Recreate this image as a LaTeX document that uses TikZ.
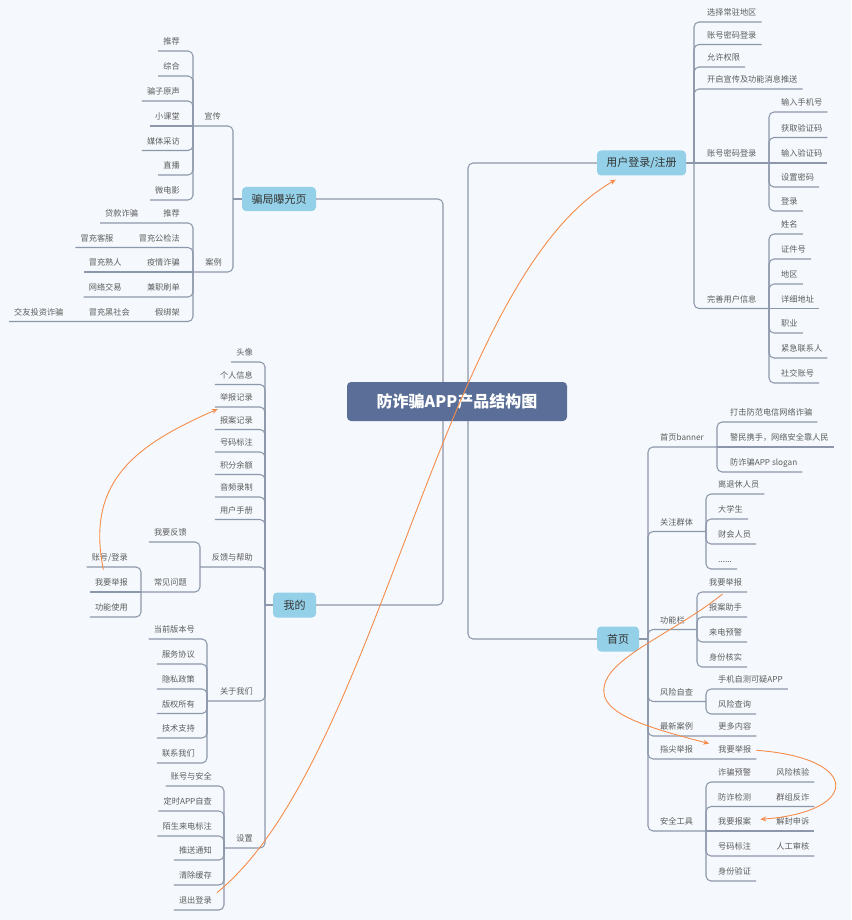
\documentclass[tikz,border=0pt]{standalone}
\usepackage{fontspec}
\setmainfont{Noto Sans CJK SC}
\usetikzlibrary{arrows.meta,calc}
\definecolor{bg}{HTML}{F5F9FD}
\definecolor{lnc}{HTML}{8D97AB}
\definecolor{txt}{HTML}{5C5C5C}
\definecolor{tpc}{HTML}{94D1E8}
\definecolor{ctr}{HTML}{5A6E97}
\definecolor{org}{HTML}{F58C4C}
\newcommand\fsm{\fontsize{8.2}{10}\selectfont}
% left item: name, text, x (anchor), underline y, junction, path operator
\newcommand\LN[6]{\node[lt] (#1) at (#3,#4) {#2}; \draw[ln] (#5) #6 (#1.south west);}
\newcommand\RN[6]{\node[rt] (#1) at (#3,#4) {#2}; \draw[ln] (#5) #6 (#1.south east);}
\newcommand\LNN[8]{\node[lt] (#1) at (#5,#6) {#2}; \node[lt] (#3) at ([xshift=-15pt]#1.south west) {#4}; \draw[ln] (#7) #8 (#3.south west);}
\newcommand\RNN[8]{\node[rt] (#1) at (#5,#6) {#2}; \node[rt] (#3) at ([xshift=15pt]#1.south east) {#4}; \draw[ln] (#7) #8 (#3.south east);}
\tikzset{
  lt/.style={anchor=south east, font=\fsm, text=txt, inner xsep=5pt, inner ysep=4pt, text height=7pt, text depth=2pt},
  rt/.style={lt, anchor=south west},
  ln/.style={draw=lnc, line width=1.05pt, rounded corners=5pt},
  topic/.style={fill=tpc, rounded corners=4pt, font=\fontsize{11}{13}\selectfont, text=black!80, inner sep=0pt},
  centre/.style={fill=ctr, rounded corners=4pt, font=\fontsize{16}{18}\selectfont\bfseries, text=white, inner sep=0pt, minimum width=220pt, minimum height=39pt},
  arr/.style={draw=org, line width=0.9pt, -{Stealth[length=6pt,width=5pt]}}
}
\begin{document}
\begin{tikzpicture}[x=1pt,y=-1pt]
\fill[bg] (0,0) rectangle (851,920);
\useasboundingbox (0,0) rectangle (851,920);

% centre and main topics
\node[centre] (c) at (457,401.5) {防诈骗APP产品结构图};
\node[topic, minimum width=74pt, minimum height=24pt] (pj) at (279,199) {骗局曝光页};
\node[topic, minimum width=43pt, minimum height=25pt] (wd) at (294.5,605) {我的};
\node[topic, minimum width=89pt, minimum height=25pt] (ud) at (641.5,163) {用户登录/注册};
\node[topic, minimum width=42pt, minimum height=25pt] (sy) at (618,639) {首页};

% trunks
\coordinate (tl) at (443,0);
\coordinate (tr) at (468,0);
\draw[ln] (c.north -| tl) |- (pj.east);
\draw[ln] (c.south -| tl) |- (wd.east);
\draw[ln] (c.north -| tr) |- (ud.west);
\draw[ln] (c.south -| tr) |- (sy.west);

% ---------- 骗局曝光页 ----------
\coordinate (jA) at (233,199);
\draw[ln] (pj.west) -- (jA);
\node[lt] (xc) at (226,126) {宣传};
\node[lt] (al) at (227,272) {案例};
\coordinate (jX) at (193,126);
\coordinate (jL) at (193,272);
\draw[ln] (jA) |- (jX);
\draw[ln] (jA) |- (jL);
\LN{x1}{推荐}{185}{51}{jX}{|-}
\LN{x2}{综合}{185}{76}{jX}{|-}
\LN{x3}{骗子原声}{185}{101}{jX}{|-}
\LN{x4}{小课堂}{185}{126}{jX}{--}
\LN{x5}{媒体采访}{185}{150.5}{jX}{|-}
\LN{x6}{直播}{185}{175}{jX}{|-}
\LN{x7}{微电影}{185}{200}{jX}{|-}
\LNN{a1}{推荐}{a1b}{贷款诈骗}{185}{223}{jL}{|-}
\LNN{a2}{冒充公检法}{a2b}{冒充客服}{185}{247.5}{jL}{|-}
\LNN{a3}{疫情诈骗}{a3b}{冒充熟人}{185}{272}{jL}{--}
\LNN{a4}{兼职刷单}{a4b}{网络交易}{185}{297}{jL}{|-}
\node[lt] (a5) at (185,321.5) {假绑架};
\node[lt] (a5b) at ([xshift=-15pt]a5.south west) {冒充黑社会};
\node[lt] (a5c) at ([xshift=-15pt]a5b.south west) {交友投资诈骗};
\draw[ln] (jL) |- (a5c.south west);

% ---------- 我的 ----------
\coordinate (jW) at (265,605);
\draw[ln] (wd.west) -- (jW);
\LN{w1}{头像}{258}{362}{jW}{|-}
\LN{w2}{个人信息}{258}{384.5}{jW}{|-}
\LN{w3}{举报记录}{258}{407}{jW}{|-}
\LN{w4}{报案记录}{258}{429.5}{jW}{|-}
\LN{w5}{号码标注}{258}{452}{jW}{|-}
\LN{w6}{积分余额}{258}{474.5}{jW}{|-}
\LN{w7}{音频录制}{258}{497}{jW}{|-}
\LN{w8}{用户手册}{258}{519.5}{jW}{|-}
\node[lt] (fk) at (258,567) {反馈与帮助};
\coordinate (jF) at (200,567);
\draw[ln] (jW) |- (jF);
\LN{f1}{我要反馈}{192}{542}{jF}{|-}
\node[lt] (cj) at (192,592) {常见问题};
\coordinate (jC) at (141,592);
\draw[ln] (jF) |- (jC);
\LN{c1}{账号/登录}{133}{567}{jC}{|-}
\LN{c2}{我要举报}{133}{592}{jC}{--}
\LN{c3}{功能使用}{133}{617}{jC}{|-}
\node[lt] (gy) at (258,701) {关于我们};
\coordinate (jG) at (207,701);
\draw[ln] (jW) |- (jG);
\LN{g1}{当前版本号}{200}{639}{jG}{|-}
\LN{g2}{服务协议}{200}{664}{jG}{|-}
\LN{g3}{隐私政策}{200}{689}{jG}{|-}
\LN{g4}{版权所有}{200}{713.5}{jG}{|-}
\LN{g5}{技术支持}{200}{738}{jG}{|-}
\LN{g6}{联系我们}{200}{763}{jG}{|-}
\node[lt] (sz) at (258,848) {设置};
\coordinate (jS) at (224,848);
\draw[ln] (jW) |- (jS);
\LN{s1}{账号与安全}{217}{786}{jS}{|-}
\LN{s2}{定时APP自查}{217}{811}{jS}{|-}
\LN{s3}{陌生来电标注}{217}{836}{jS}{|-}
\LN{s4}{推送通知}{217}{860}{jS}{|-}
\LN{s5}{清除缓存}{217}{885}{jS}{|-}
\LN{s6}{退出登录}{217}{910}{jS}{|-}

% ---------- 用户登录/注册 ----------
\coordinate (jU) at (694,163);
\draw[ln] (ud.east) -- (jU);
\RN{u1}{选择常驻地区}{702}{22}{jU}{|-}
\RN{u2}{账号密码登录}{702}{44.5}{jU}{|-}
\RN{u3}{允许权限}{702}{67}{jU}{|-}
\RN{u4}{开启宣传及功能消息推送}{702}{89}{jU}{|-}
\node[rt] (u5) at (702,163) {账号密码登录};
\coordinate (jP) at (769,163);
\draw[ln] (jU) -- (jP);
\RN{p1}{输入手机号}{776}{112}{jP}{|-}
\RN{p2}{获取验证码}{776}{137.5}{jP}{|-}
\RN{p3}{输入验证码}{776}{163}{jP}{--}
\RN{p4}{设置密码}{776}{187}{jP}{|-}
\RN{p5}{登录}{776}{211}{jP}{|-}
\node[rt] (u6) at (702,308.5) {完善用户信息};
\coordinate (jI) at (769,308.5);
\draw[ln] (jU) |- (jI);
\RN{i1}{姓名}{776}{234}{jI}{|-}
\RN{i2}{证件号}{776}{259}{jI}{|-}
\RN{i3}{地区}{776}{284}{jI}{|-}
\RN{i4}{详细地址}{776}{308.5}{jI}{--}
\RN{i5}{职业}{776}{333}{jI}{|-}
\RN{i6}{紧急联系人}{776}{358}{jI}{|-}
\RN{i7}{社交账号}{776}{383}{jI}{|-}

% ---------- 首页 ----------
\coordinate (jH) at (648,639);
\draw[ln] (sy.east) -- (jH);
\node[rt] (h1) at (655,447) {首页banner};
\coordinate (jB) at (717,447);
\draw[ln] (jH) |- (jB);
\RN{b1}{打击防范电信网络诈骗}{725}{422}{jB}{|-}
\RN{b2}{警民携手，网络安全靠人民}{725}{447}{jB}{--}
\RN{b3}{防诈骗APP slogan}{725}{472}{jB}{|-}
\node[rt] (h2) at (655,531.5) {关注群体};
\coordinate (jQ) at (706,531.5);
\draw[ln] (jH) |- (jQ);
\RN{q1}{离退休人员}{713}{494}{jQ}{|-}
\RN{q2}{大学生}{713}{519}{jQ}{|-}
\RN{q3}{财会人员}{713}{544}{jQ}{|-}
\RN{q4}{......}{713}{569}{jQ}{|-}
\node[rt] (h3) at (655,629.5) {功能栏};
\coordinate (jN) at (697,629.5);
\draw[ln] (jH) |- (jN);
\RN{n1}{我要举报}{704}{592}{jN}{|-}
\RN{n2}{报案助手}{704}{617}{jN}{|-}
\RN{n3}{来电预警}{704}{642}{jN}{|-}
\RN{n4}{身份核实}{704}{667}{jN}{|-}
\node[rt] (h4) at (655,701.5) {风险自查};
\coordinate (jR) at (706,701.5);
\draw[ln] (jH) |- (jR);
\RN{r1}{手机自测可疑APP}{713}{689}{jR}{|-}
\RN{r2}{风险查询}{713}{714}{jR}{|-}
\RNN{h5}{最新案例}{m1}{更多内容}{655}{736}{jH}{|-}
\RNN{h6}{指尖举报}{zj}{我要举报}{655}{759}{jH}{|-}
\node[rt] (h7) at (655,831) {安全工具};
\coordinate (jT) at (706,831);
\draw[ln] (jH) |- (jT);
\RNN{t1}{诈骗预警}{t1b}{风险核验}{713}{782}{jT}{|-}
\RNN{t2}{防诈检测}{t2b}{群组反诈}{713}{806.5}{jT}{|-}
\RNN{t3}{我要报案}{t3b}{解封申诉}{713}{831}{jT}{--}
\RNN{t4}{号码标注}{t4b}{人工审核}{713}{856}{jT}{|-}
\RN{t5}{身份验证}{713}{881}{jT}{|-}

% ---------- orange relations ----------
\draw[arr] (s6.north east) .. controls (380,760) and (440,280) .. ([xshift=19pt,yshift=-4pt]ud.south west);
\draw[arr] ([xshift=-8pt,yshift=5pt]c2.north) .. controls (85,480) and (138,444) .. ([xshift=3pt,yshift=-2pt]w3.south west);
\draw[arr] ([xshift=-3pt,yshift=-2pt]n1.south) .. controls (670,636) and (600,660) .. (604,693) .. controls (606,715) and (649,728) .. ([xshift=-4pt,yshift=-2pt]zj.north west);
\draw[arr] (zj.east) .. controls (862,758) and (860,812) .. ([xshift=4pt,yshift=3pt]t3.east);
\end{tikzpicture}
\end{document}
